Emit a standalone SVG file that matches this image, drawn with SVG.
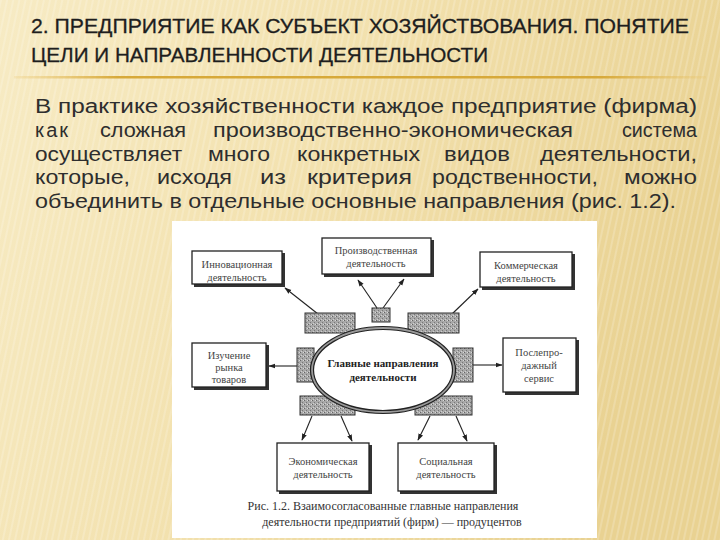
<svg xmlns="http://www.w3.org/2000/svg" width="720" height="540" viewBox="0 0 720 540">
<defs>
<linearGradient id="bg" x1="0" y1="0" x2="1" y2="0.3">
<stop offset="0" stop-color="#f7ebc4"/>
<stop offset="0.45" stop-color="#f3e2b0"/>
<stop offset="1" stop-color="#e9d292"/>
</linearGradient>
<pattern id="stripes" width="6" height="6" patternUnits="userSpaceOnUse" patternTransform="rotate(12)">
<rect width="6" height="6" fill="none"/>
<rect width="2" height="6" fill="#ffffff" opacity="0.18"/>
</pattern>
<linearGradient id="gold" x1="0" y1="0" x2="1" y2="0">
<stop offset="0" stop-color="#e8c060" stop-opacity="0.2"/>
<stop offset="0.15" stop-color="#d7a93a"/>
<stop offset="0.85" stop-color="#d7a93a"/>
<stop offset="1" stop-color="#e8c060" stop-opacity="0.2"/>
</linearGradient>
<pattern id="stip" width="4" height="4" patternUnits="userSpaceOnUse">
<rect width="4" height="4" fill="#a8a8a8"/>
<rect x="0" y="0" width="1" height="1" fill="#666"/>
<rect x="2" y="2" width="1" height="1" fill="#777"/>
<rect x="3" y="0" width="1" height="1" fill="#d8d8d8"/>
<rect x="1" y="3" width="1" height="1" fill="#d0d0d0"/>
</pattern>
<marker id="ah" viewBox="0 0 10 10" refX="9" refY="5" markerWidth="7" markerHeight="7" orient="auto" markerUnits="userSpaceOnUse">
<path d="M0,1.5 L10,5 L0,8.5 Z" fill="#222"/>
</marker>
</defs>
<style>
.title{font-family:"Liberation Sans","DejaVu Sans",sans-serif;font-size:21px;fill:#1e1e1e;stroke:#1e1e1e;stroke-width:0.3}
.body{font-family:"Liberation Sans","DejaVu Sans",sans-serif;font-size:20px;fill:#2e2e2e}
.box{fill:#fff;stroke:#222;stroke-width:1.3}
.shadow{fill:#333}
.nt{font-family:"Liberation Serif","DejaVu Serif",serif;font-size:10.5px;fill:#444;text-anchor:middle}
.ct{font-family:"Liberation Serif","DejaVu Serif",serif;font-size:11px;font-weight:bold;fill:#222;text-anchor:middle}
.blk{fill:url(#stip);stroke:#333;stroke-width:1}
.conn{stroke:#222;stroke-width:1.1;fill:none;marker-end:url(#ah)}
.cap{font-family:"Liberation Serif","DejaVu Serif",serif;font-size:12px;fill:#333;text-anchor:middle}
</style>
<rect width="720" height="540" fill="url(#bg)"/>
<rect width="720" height="540" fill="url(#stripes)"/>

<text class="title" x="31" y="33" textLength="658" lengthAdjust="spacingAndGlyphs">2. ПРЕДПРИЯТИЕ КАК СУБЪЕКТ ХОЗЯЙСТВОВАНИЯ. ПОНЯТИЕ</text>
<text class="title" x="31" y="62" textLength="457" lengthAdjust="spacingAndGlyphs">ЦЕЛИ И НАПРАВЛЕННОСТИ ДЕЯТЕЛЬНОСТИ</text>
<rect x="14" y="76" width="692" height="2.5" fill="url(#gold)"/>

<text class="body" x="35" y="113" textLength="662" lengthAdjust="spacingAndGlyphs">В практике хозяйственности каждое предприятие (фирма)</text>
<text class="body" y="137"><tspan x="35" letter-spacing="2">как</tspan><tspan x="100" textLength="86" lengthAdjust="spacingAndGlyphs">сложная</tspan><tspan x="213" textLength="360" lengthAdjust="spacingAndGlyphs">производственно-экономическая</tspan><tspan x="622" textLength="75" lengthAdjust="spacingAndGlyphs">система</tspan></text>
<text class="body" y="161"><tspan x="35" textLength="147" lengthAdjust="spacingAndGlyphs">осуществляет</tspan><tspan x="208" textLength="62" lengthAdjust="spacingAndGlyphs">много</tspan><tspan x="297" textLength="123" lengthAdjust="spacingAndGlyphs">конкретных</tspan><tspan x="444" textLength="66" lengthAdjust="spacingAndGlyphs">видов</tspan><tspan x="540" textLength="157" lengthAdjust="spacingAndGlyphs">деятельности,</tspan></text>
<text class="body" y="184"><tspan x="35" textLength="95" lengthAdjust="spacingAndGlyphs">которые,</tspan><tspan x="157" textLength="75" lengthAdjust="spacingAndGlyphs">исходя</tspan><tspan x="260" textLength="26" lengthAdjust="spacingAndGlyphs">из</tspan><tspan x="307" textLength="105" lengthAdjust="spacingAndGlyphs">критерия</tspan><tspan x="432" textLength="166" lengthAdjust="spacingAndGlyphs">родственности,</tspan><tspan x="624" textLength="73" lengthAdjust="spacingAndGlyphs">можно</tspan></text>
<text class="body" x="35" y="208" textLength="641" lengthAdjust="spacingAndGlyphs">объединить в отдельные основные направления (рис. 1.2).</text>

<rect x="172" y="221" width="425" height="317" fill="#fff"/>

<g id="connectors">
<line class="conn" x1="318" y1="314" x2="285" y2="288"/>
<line class="conn" x1="377" y1="308" x2="358" y2="280"/>
<line class="conn" x1="383" y1="308" x2="404" y2="279"/>
<line class="conn" x1="452" y1="314" x2="478" y2="289"/>
<line class="conn" x1="297" y1="366" x2="269" y2="366"/>
<line class="conn" x1="473" y1="365" x2="502" y2="365"/>
<line class="conn" x1="312" y1="416" x2="302" y2="440"/>
<line class="conn" x1="341" y1="416" x2="352" y2="441"/>
<line class="conn" x1="430" y1="416" x2="418" y2="440"/>
<line class="conn" x1="456" y1="416" x2="467" y2="441"/>
</g>

<g id="hub">
<rect class="blk" x="372" y="308" width="18" height="14"/>
<rect class="blk" x="305" y="313" width="50" height="20"/>
<rect class="blk" x="408" y="313" width="51" height="20"/>
<rect class="blk" x="297" y="348" width="17" height="34"/>
<rect class="blk" x="453" y="348" width="20" height="34"/>
<rect class="blk" x="300" y="396" width="55" height="19"/>
<rect class="blk" x="415" y="396" width="57" height="19"/>
<ellipse cx="383" cy="370" rx="72.5" ry="43.5" fill="#9a9a9a" stroke="#222" stroke-width="1.2"/>
<ellipse cx="383" cy="370" rx="69.5" ry="40.5" fill="#fff" stroke="#222" stroke-width="1.2"/>
<text class="ct" x="383" y="367">Главные направления</text>
<text class="ct" x="383" y="381">деятельности</text>
</g>

<g id="n-prod">
<rect class="shadow" x="324" y="240" width="110" height="37"/>
<rect class="box" x="322" y="238" width="109" height="36"/>
<text class="nt" x="376" y="254">Производственная</text>
<text class="nt" x="376" y="267">деятельность</text>
</g>
<g id="n-innov">
<rect class="shadow" x="194" y="253" width="91" height="34"/>
<rect class="box" x="192" y="251" width="90" height="33"/>
<text class="nt" x="237" y="268">Инновационная</text>
<text class="nt" x="237" y="281">деятельность</text>
</g>
<g id="n-comm">
<rect class="shadow" x="482" y="254" width="93" height="36"/>
<rect class="box" x="480" y="252" width="92" height="35"/>
<text class="nt" x="526" y="269">Коммерческая</text>
<text class="nt" x="526" y="282">деятельность</text>
</g>
<g id="n-market">
<rect class="shadow" x="194" y="345" width="75" height="45"/>
<rect class="box" x="192" y="343" width="74" height="44"/>
<text class="nt" x="229" y="359">Изучение</text>
<text class="nt" x="229" y="371">рынка</text>
<text class="nt" x="229" y="383">товаров</text>
</g>
<g id="n-service">
<rect class="shadow" x="505" y="340" width="74" height="55"/>
<rect class="box" x="503" y="338" width="73" height="54"/>
<text class="nt" x="539" y="356">Послепро-</text>
<text class="nt" x="539" y="369">дажный</text>
<text class="nt" x="539" y="382">сервис</text>
</g>
<g id="n-econ">
<rect class="shadow" x="279" y="445" width="93" height="49"/>
<rect class="box" x="277" y="443" width="92" height="48"/>
<text class="nt" x="323" y="465">Экономическая</text>
<text class="nt" x="323" y="478">деятельность</text>
</g>
<g id="n-social">
<rect class="shadow" x="400" y="445" width="97" height="49"/>
<rect class="box" x="398" y="443" width="96" height="48"/>
<text class="nt" x="446" y="465">Социальная</text>
<text class="nt" x="446" y="478">деятельность</text>
</g>

<text class="cap" x="383" y="510">Рис. 1.2. Взаимосогласованные главные направления</text>
<text class="cap" x="392" y="526">деятельности предприятий (фирм) — продуцентов</text>
</svg>
